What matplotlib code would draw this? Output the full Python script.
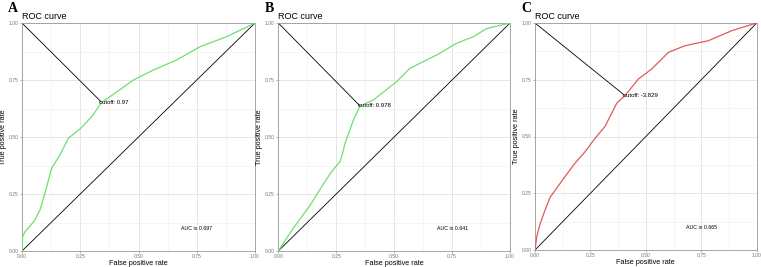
import matplotlib
matplotlib.use("Agg")
import matplotlib.pyplot as plt

# panel A (green)
fpr_a = [0.0, 0.003, 0.013, 0.035, 0.056, 0.077, 0.092, 0.106, 0.127, 0.163, 0.199,
         0.249, 0.30, 0.342, 0.399, 0.478, 0.564, 0.664, 0.764, 0.879, 1.0]
tpr_a = [0.0, 0.063, 0.085, 0.11, 0.136, 0.18, 0.23, 0.282, 0.363, 0.421, 0.495,
         0.535, 0.59, 0.652, 0.692, 0.75, 0.794, 0.838, 0.896, 0.94, 1.0]
# panel B (green)
fpr_b = [0.0, 0.022, 0.065, 0.108, 0.137, 0.187, 0.23, 0.266, 0.278, 0.288, 0.309,
         0.324, 0.353, 0.41, 0.511, 0.568, 0.684, 0.77, 0.842, 0.9, 1.0]
tpr_b = [0.0, 0.034, 0.1, 0.16, 0.2, 0.282, 0.348, 0.392, 0.43, 0.472, 0.531,
         0.575, 0.636, 0.662, 0.743, 0.801, 0.86, 0.911, 0.94, 0.976, 1.0]
# panel C (red)
fpr_c = [0.0, 0.008, 0.023, 0.045, 0.068, 0.135, 0.18, 0.226, 0.271, 0.316, 0.369,
         0.406, 0.466, 0.526, 0.602, 0.677, 0.782, 0.887, 1.0]
tpr_c = [0.0, 0.059, 0.115, 0.175, 0.232, 0.323, 0.382, 0.433, 0.492, 0.545, 0.647,
         0.68, 0.753, 0.797, 0.871, 0.9, 0.922, 0.966, 1.0]

cutoff_pts = [(0.342, 0.652), (0.353, 0.636), (0.406, 0.680)]
cutoff_labels = ["cutoff: 0.97", "cutoff: 0.978", "cutoff: -3.829"]
auc_labels = ["AUC is 0.697", "AUC is 0.641", "AUC is 0.665"]
panel_letters = ["A", "B", "C"]
curve_colors = ["#6ee06e", "#6ee06e", "#e05a5a"]

ticks = [0.0, 0.25, 0.5, 0.75, 1.0]
tick_labels = ["0.00", "0.25", "0.50", "0.75", "1.00"]
minor = [0.125, 0.375, 0.625, 0.875]

plt.rcParams['font.family'] = ['Liberation Sans', 'DejaVu Sans']

fig = plt.figure(figsize=(7.61, 2.67), dpi=100)

# axes boxes in pixels: left, right, bottom(from top), top(from top)
boxes = [(22, 255, 251, 23), (278.3, 510, 251, 23), (535, 756.7, 250, 23)]
curves = [(fpr_a, tpr_a), (fpr_b, tpr_b), (fpr_c, tpr_c)]

for i, (l, r, b, t) in enumerate(boxes):
    ax = fig.add_axes([l / 761, (267 - b) / 267, (r - l) / 761, (b - t) / 267])
    ax.set_xlim(0, 1)
    ax.set_ylim(0, 1)

    for v in minor:
        ax.axvline(v, color="#f2f2f2", lw=0.5, zorder=0)
        ax.axhline(v, color="#f2f2f2", lw=0.5, zorder=0)
    for v in ticks:
        ax.axvline(v, color="#e6e6e6", lw=0.7, zorder=0)
        ax.axhline(v, color="#e6e6e6", lw=0.7, zorder=0)

    fpr, tpr = curves[i]
    ax.plot(fpr, tpr, color=curve_colors[i], lw=0.9, zorder=3,
            solid_joinstyle="round")
    ax.plot([0, 1], [0, 1], color="black", lw=0.6, zorder=2)
    cx, cy = cutoff_pts[i]
    ax.plot([0, cx], [1, cy], color="black", lw=0.6, zorder=2)
    ax.text(cx - 0.01, cy, cutoff_labels[i], fontsize=4.3, ha="left", va="center", zorder=4)
    ax.text(0.75, 0.10, auc_labels[i], fontsize=3.8, ha="center", va="center")

    ax.set_xticks(ticks)
    ax.set_xticklabels(tick_labels)
    ax.set_yticks(ticks)
    ax.set_yticklabels(tick_labels)
    ax.tick_params(labelsize=3.6, colors="#777777", length=1.5, width=0.4, pad=1)
    for s in ax.spines.values():
        s.set_color("#999999")
        s.set_linewidth(0.6)

    ax.set_xlabel("False positive rate", fontsize=5.2, labelpad=0.3)
    ax.set_ylabel("True positive rate", fontsize=5.2, labelpad=1)
    ax.set_title("ROC curve", fontsize=6.5, loc="left", pad=3)

    fig.text((l - 14) / 761, 1 - 9 / 267, panel_letters[i], fontsize=10, fontweight="bold",
             family="Liberation Serif", ha="left", va="center")

fig.savefig("out.png", dpi=100)
